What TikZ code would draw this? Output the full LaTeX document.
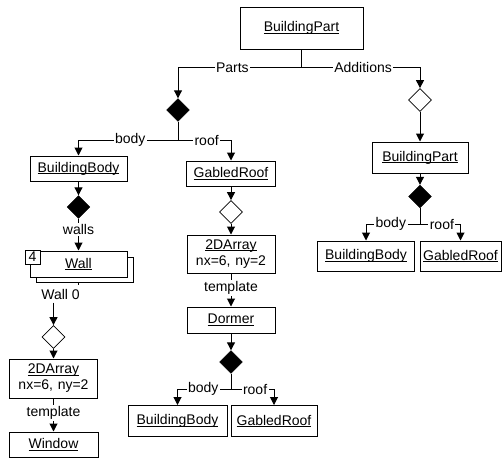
\documentclass[tikz,border=0pt]{standalone}
\usepackage{fontspec}
\setmainfont{Liberation Sans}
\usetikzlibrary{arrows.meta,shapes.geometric,calc}
\newcommand{\und}[1]{\setbox0=\hbox{#1}\rlap{\rule[-1.8pt]{\wd0}{0.9pt}}\box0}

\begin{document}
\begin{tikzpicture}[x=1pt,y=-1pt,
    every node/.style={font=\fontsize{14}{16}\selectfont},
    box/.style={draw,line width=1pt,fill=white,inner sep=0pt,align=center},
    full/.style={diamond,draw,fill=black,inner sep=0pt,minimum width=23pt,minimum height=23pt},
    hollow/.style={diamond,draw,fill=white,line width=0.8pt,inner sep=0pt,minimum width=23pt,minimum height=23pt},
    link/.style={line width=1pt},
    arr/.style={line width=1pt,-{Triangle[length=8pt,width=8pt]}},
    lbl/.style={fill=white,inner sep=1.5pt}]
      \useasboundingbox (0,0) rectangle (502,458);

      \node[box,minimum width=123pt,minimum height=42pt] (bp) at (301.5,28) {\und{BuildingPart}};
      \node[full] (d1) at (178,110) {};
      \node[hollow] (d2) at (420,100) {};
      \node[box,minimum width=97pt,minimum height=25pt] (bb1) at (78.5,168.5) {\und{BuildingBody}};
      \node[box,minimum width=89pt,minimum height=25pt] (gr1) at (231,173.5) {\und{GabledRoof}};
      \node[box,minimum width=96pt,minimum height=31pt] (bp2) at (420,157.5) {\und{BuildingPart}};
      \node[full] (d3) at (78.5,207) {};
      \node[hollow] (d4) at (231,212) {};
      \node[full] (d5) at (420,196.5) {};
      \node[box,minimum width=97pt,minimum height=30pt] (bb2) at (366,256) {\und{BuildingBody}};
      \node[box,minimum width=81pt,minimum height=30pt] (gr2) at (460.5,256) {\und{GabledRoof}};
      \node[box,minimum width=97pt,minimum height=25pt] (wallb) at (84.5,269.5) {};
      \node[box,minimum width=97pt,minimum height=26pt] (wall) at (78.5,264) {\und{Wall}};
      \node[box,line width=0.8pt,minimum width=15pt,minimum height=14pt] (n4) at (32.5,257) {4};
      \node (w0) at (60.5,294) {Wall 0};
      \node[hollow] (d6) at (53.5,337) {};
      \node[box,text width=88pt,minimum height=39pt] (arr1) at (53.5,378.5) {\und{2DArray}\\nx=6, ny=2};
      \node[box,minimum width=89pt,minimum height=25pt] (win) at (53.5,444.5) {\und{Window}};
      \node[box,text width=88pt,minimum height=38pt] (arr2) at (231,254) {\und{2DArray}\\nx=6, ny=2};
      \node[box,minimum width=88pt,minimum height=26pt] (dor) at (231,320) {\und{Dormer}};
      \node[full] (d7) at (231,362) {};
      \node[box,minimum width=99pt,minimum height=31pt] (bb3) at (177.5,421) {\und{BuildingBody}};
      \node[box,minimum width=86pt,minimum height=31pt] (gr3) at (274,421) {\und{GabledRoof}};

      \coordinate (j0) at (301.5,67.5);
      \coordinate (j1) at (178,140);
      \coordinate (j5) at (420,224);
      \coordinate (j7) at (231,389);

      \draw[link] (bp) -- (j0);
      \draw[arr] (j0) -| node[lbl,pos=0.28] {Parts} (d1);
      \draw[arr] (j0) -| node[lbl,pos=0.26] {Additions} (d2);
      \draw[link] (d1) -- (j1);
      \draw[arr] (j1) -| node[lbl,pos=0.24] {body} (bb1);
      \draw[arr] (j1) -| node[lbl,pos=0.27] {roof} (gr1);
      \draw[arr] (d2) -- (bp2);
      \draw[arr] (bp2) -- (d5);
      \draw[link] (d5) -- (j5);
      \draw[arr] (j5) -| node[lbl,pos=0.27] {body} (bb2);
      \draw[arr] (j5) -| node[lbl,pos=0.27] {roof} (gr2);

      \draw[arr] (bb1) -- (d3);
      \draw[arr] (d3) -- node[lbl,pos=0.33] {walls} (wall);
      \draw[link] (wallb.south -| wall) -- (wall |- w0.north);
      \draw[arr] (w0.south -| d6) -- (d6);
      \draw[arr] (d6) -- (arr1);
      \draw[arr] (arr1) -- node[lbl,pos=0.44] {template} (win);

      \draw[arr] (gr1) -- (d4);
      \draw[arr] (d4) -- (arr2);
      \draw[arr] (arr2) -- node[lbl,pos=0.45] {template} (dor);
      \draw[arr] (dor) -- (d7);
      \draw[link] (d7) -- (j7);
      \draw[arr] (j7) -| node[lbl,pos=0.26] {body} (bb3);
      \draw[arr] (j7) -| node[lbl,pos=0.28] {roof} (gr3);
    \end{tikzpicture}
\end{document}
